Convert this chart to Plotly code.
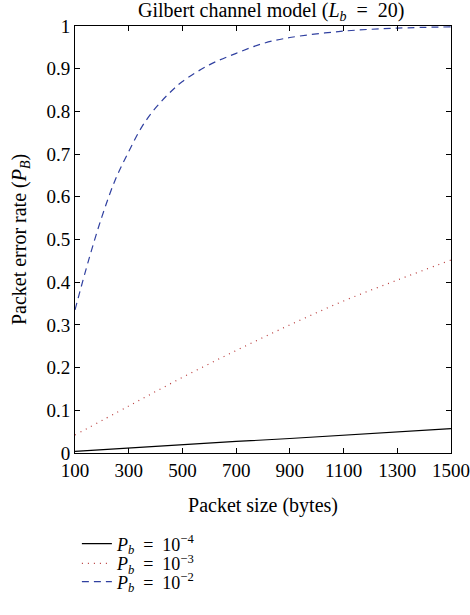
import plotly.graph_objects as go

packet_size_black = [100, 300, 500, 700, 900, 1100, 1300, 1500]
pe_1e4 = [0.004, 0.012, 0.019, 0.027, 0.034, 0.042, 0.050, 0.057]

packet_size_red = [100, 300, 500, 700, 900, 1100, 1300, 1500]
pe_1e3 = [0.042, 0.110, 0.177, 0.240, 0.300, 0.356, 0.405, 0.452]

packet_size_blue = [100, 150, 200, 250, 300, 350, 400, 450, 500, 600, 700, 800, 900, 1100, 1300, 1500]
pe_1e2 = [0.335, 0.450, 0.553, 0.640, 0.706, 0.765, 0.808, 0.842, 0.870, 0.909, 0.936, 0.959, 0.973, 0.988, 0.995, 0.998]

x_ticks = [100, 300, 500, 700, 900, 1100, 1300, 1500]
y_ticks = [0, 0.1, 0.2, 0.3, 0.4, 0.5, 0.6, 0.7, 0.8, 0.9, 1]
y_tick_labels = ["0", "0.1", "0.2", "0.3", "0.4", "0.5", "0.6", "0.7", "0.8", "0.9", "1"]

legend_names = ["<i>P</i><sub><i>b</i></sub>  =  10<sup>−4</sup>",
                "<i>P</i><sub><i>b</i></sub>  =  10<sup>−3</sup>",
                "<i>P</i><sub><i>b</i></sub>  =  10<sup>−2</sup>"]

FONT = "Liberation Serif"
TICK_SIZE = 19
TEXT_SIZE = 20
LEG_SIZE = 18

fig = go.Figure()
fig.add_trace(go.Scatter(x=packet_size_black, y=pe_1e4, mode="lines",
                         line=dict(color="black", width=1.2),
                         name=legend_names[0], legend="legend"))
fig.add_trace(go.Scatter(x=packet_size_red, y=pe_1e3, mode="lines", line_shape="spline",
                         line=dict(color="#b83838", width=1.2, dash="1px,5px"),
                         name=legend_names[1], legend="legend2"))
fig.add_trace(go.Scatter(x=packet_size_blue, y=pe_1e2, mode="lines", line_shape="spline",
                         line=dict(color="#3040a0", width=1.2, dash="7px,5px"),
                         name=legend_names[2], legend="legend3"))

axis_common = dict(showline=True, linecolor="black", linewidth=1, mirror="ticks",
                   ticks="inside", ticklen=5, tickcolor="black", showgrid=False,
                   zeroline=False, automargin=False,
                   tickfont=dict(family=FONT, size=TICK_SIZE, color="black"))

legend_common = dict(x=0.005, xanchor="left", yanchor="middle",
                     bgcolor="rgba(0,0,0,0)", font=dict(family=FONT, size=LEG_SIZE),
                     itemwidth=30)

fig.update_layout(
    width=470, height=615,
    margin=dict(l=75, r=19, t=26, b=162, autoexpand=False),
    paper_bgcolor="white", plot_bgcolor="white",
    font=dict(family=FONT, size=TEXT_SIZE, color="black"),
    title=dict(text="Gilbert channel model (<i>L</i><sub><i>b</i></sub>  =  20)",
               xref="paper", x=0.522, xanchor="center",
               yref="container", y=0.995, yanchor="top",
               font=dict(family=FONT, size=TEXT_SIZE, color="black")),
    xaxis=dict(range=[100, 1500], tickvals=x_ticks,
               title=dict(text="Packet size (bytes)", standoff=18,
                          font=dict(family=FONT, size=TEXT_SIZE)), **axis_common),
    yaxis=dict(range=[0, 1], tickvals=y_ticks, ticktext=y_tick_labels,
               title=dict(text="Packet error rate (<i>P</i><sub><i>B</i></sub>)", standoff=14,
                          font=dict(family=FONT, size=TEXT_SIZE)), **axis_common),
    legend=dict(y=-0.213, **legend_common),
    legend2=dict(y=-0.259, **legend_common),
    legend3=dict(y=-0.302, **legend_common),
    showlegend=True,
)

fig.write_html("out.html", config={"displayModeBar": False},
               post_script="document.body.style.margin='0';")
